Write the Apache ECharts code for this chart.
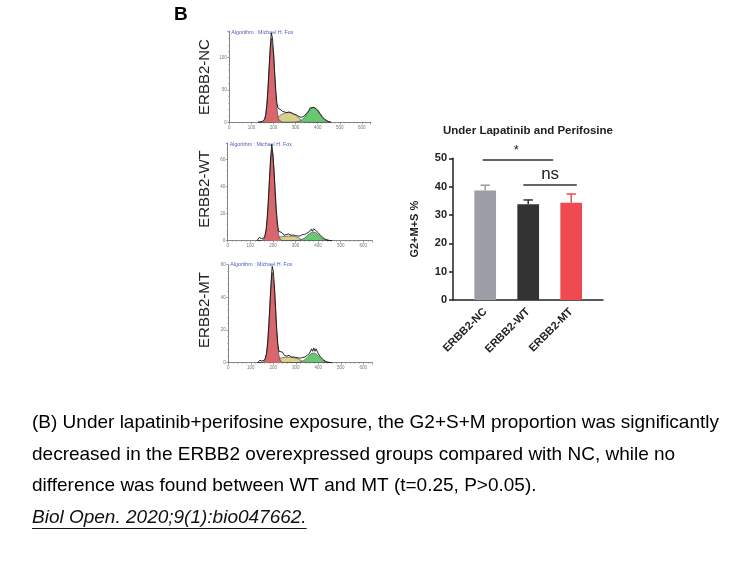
<!DOCTYPE html>
<html><head><meta charset="utf-8">
<script src="https://cdn.jsdelivr.net/npm/echarts@6/dist/echarts.min.js"></script>
<style>html,body{margin:0;padding:0;background:#fff}#c{width:756px;height:567px}</style>
</head><body><div id="c"></div>
<script>
// ---------------- DATA ----------------
const histChannels = [130,140,150,160,165,170,175,180,185,190,195,200,205,210,215,220,225,230,240,250,260,270,280,290,300,310,320,330,340,350,360,365,370,375,380,385,390,400,410,420,430,440,450,460];

const ncRed    = [0,0,0.4,4.5,12,27,51,82,112,130,128,107,75,45,23,10,3.6,1.1,0, 0,0,0,0,0,0,0,0,0,0,0,0, 0,0,0,0,0,0, 0,0,0,0,0,0,0];
const ncYellow = [0,0,0,0,0,0,0,0,0,0,0.5,2,3.5,5,6.5,8,9.5,10.5, 12.5,14,15,15,14.5,13,11,8,5,2,0.3,0,0, 0,0,0,0,0,0, 0,0,0,0,0,0,0];
const ncGreen  = [0,0,0,0,0,0,0,0,0,0,0,0,0,0,0,0,0,0, 0,0,0,0,0,0,0.3,0.8,2,4.1,7.7,12.4,17.5, 19.7,21.5,22.6,23,22.6,21.5, 17.5,12.4,7.7,4.1,2,0.8,0.3];
const ncTotal  = [0,0.5,1.5,5,12,27,52,84,114,138,131,110,80,52,31,22,24,20, 17,16,15,16,15,13,12,10,8,8,10,14,18, 22,24,23,26,23,24, 19,14,9,5,3,1,0];

const wtRed    = [0,0,0.1,1.1,3.1,7.7,16.3,29.5,45.5,59.7,66.8,63.7,51.7,35.8,21.1,10.6,4.5,1.7, 0.1,0,0,0,0,0,0,0,0,0,0,0,0, 0,0,0,0,0,0, 0,0,0,0,0,0,0];
const wtYellow = [0,0,0,0,0,0,0,0,0,0,0,0.3,0.8,1.3,1.8,2.2,2.5,2.7, 3,3.2,3.3,3.4,3.4,3.3,3,2.4,1.5,0.6,0.1,0,0, 0,0,0,0,0,0, 0,0,0,0,0,0,0];
const wtGreen  = [0,0,0,0,0,0,0,0,0,0,0,0,0,0,0,0,0,0, 0,0,0,0,0,0,0.05,0.16,0.44,1,2,3.4,4.9, 5.6,6.1,6.45,6.5,6.3,5.9, 4.6,3,1.6,0.75,0.3,0.1,0];
const wtTotal  = [0,2.5,1.5,2,4,8,17,30,46,61,71,64,52,37,23,13,7,6.5, 6,4,4.5,5,4,4.2,3.8,3.5,3.5,4.5,4.5,5.5,6.5, 7.5,8.5,7,8.8,7.5,7.5, 6,4,2.5,1.2,0.6,0.2,0];

const mtRed    = [0,0,0,0.7,2.1,5.4,11.9,22.2,35.3,47.9,55.3,54.4,45.6,32.6,19.9,10.3,4.5,1.7, 0.1,0,0,0,0,0,0,0,0,0,0,0,0, 0,0,0,0,0,0, 0,0,0,0,0,0,0];
const mtYellow = [0,0,0,0,0,0,0,0,0,0,0,0.2,0.6,1.1,1.6,2,2.4,2.7, 3.1,3.3,3.4,3.4,3.3,3.1,2.8,2.3,1.6,0.9,0.3,0,0, 0,0,0,0,0,0, 0,0,0,0,0,0,0];
const mtGreen  = [0,0,0,0,0,0,0,0,0,0,0,0,0,0,0,0,0,0, 0,0,0,0,0,0,0.05,0.15,0.4,0.9,1.8,3.1,4.5, 5.1,5.6,5.9,6,5.8,5.4, 4.2,2.8,1.5,0.7,0.25,0.08,0];
const mtTotal  = [0,1.5,1,1.5,3,6,12.5,23,36,49,59,56,47,34,21,11.5,7,6, 6.5,4.5,4,4.5,3.5,3.5,3.2,3,2.8,3.2,3.5,4.5,5.5, 6.5,8.5,7,9,7,8.5, 5.5,3.5,2,1,0.4,0.15,0];

const panelLabels = ['ERBB2-NC','ERBB2-WT','ERBB2-MT'];
const histXMax = 640, histXInterval = 100;
const histYMax = [141, 72, 60];
const histYInterval = [50, 20, 20];
const algorithmText = 'Algorithm : Michael H. Fox';

const barTitle = 'Under Lapatinib and Perifosine';
const barCategories = ['ERBB2-NC','ERBB2-WT','ERBB2-MT'];
const barMeans  = [38.6, 33.8, 34.3];
const barErrors = [1.9, 1.5, 3.1];
const barYMin = 0, barYMax = 50, barYInterval = 10;
const barYName = 'G2+M+S %';
// significance brackets, in category-index / value units
const sigFrom  = [-0.06, 0.886];
const sigTo    = [1.58, 2.13];
const sigLineY = [49.4, 40.6];
const sigTextX = [0.72, 1.51];
const sigTextY = [52.9, 44.4];
const sigLabels = ['*', 'ns'];

const panelLetter = 'B';
const captionLines = [
  '(B) Under lapatinib+perifosine exposure, the G2+S+M proportion was significantly',
  'decreased in the ERBB2 overexpressed groups compared with NC, while no',
  'difference was found between WT and MT (t=0.25, P>0.05).'
];
const citation = 'Biol Open. 2020;9(1):bio047662.';

// ---------------- STYLE / LAYOUT ----------------
const FONT = '"Liberation Sans", Arial, sans-serif';
const histPanels = [
  {red: ncRed, yellow: ncYellow, green: ncGreen, total: ncTotal},
  {red: wtRed, yellow: wtYellow, green: wtGreen, total: wtTotal},
  {red: mtRed, yellow: mtYellow, green: mtGreen, total: mtTotal}
];
const histGrids = [
  {left: 229.3, top: 31.2, width: 141.4, height: 91.1},
  {left: 227.7, top: 143.1, width: 144.6, height: 97.6},
  {left: 228.3, top: 264.7, width: 144.0, height: 98.0}
];
const labelCenters = [[205, 77], [205, 189], [205, 310]];
const algoY = [32.5, 145, 265];
const barColors = ['#9c9ea5', '#333333', '#ef4a50'];
const fillColors = {red: '#d8666c', yellow: '#d9cf8e', green: '#69c772'};

const grids = histGrids.map(g => Object.assign({containLabel: false}, g));
grids.push({left: 463.7, top: 158.3, width: 129, height: 141.7}); // bars
grids.push({left: 453, top: 158.3, width: 150, height: 141.7});   // bar axes

const xAxes = [], yAxes = [], series = [];
histGrids.forEach((g, i) => {
  xAxes.push({type: 'value', gridIndex: i, min: 0, max: histXMax, interval: histXInterval,
    axisLine: {onZero: false, lineStyle: {color: '#666', width: 0.8}},
    axisTick: {length: 2, lineStyle: {color: '#666', width: 0.6}},
    minorTick: {show: true, splitNumber: 5, length: 1.2, lineStyle: {color: '#888', width: 0.5}},
    axisLabel: {fontSize: 4.5, color: '#777', margin: 2.5, showMaxLabel: false, fontFamily: FONT},
    splitLine: {show: false}});
  yAxes.push({type: 'value', gridIndex: i, min: 0, max: histYMax[i], interval: histYInterval[i],
    axisLine: {show: true, onZero: false, lineStyle: {color: '#666', width: 0.8}},
    axisTick: {show: true, length: 2, lineStyle: {color: '#666', width: 0.6}},
    minorTick: {show: true, splitNumber: 5, length: 1.2, lineStyle: {color: '#888', width: 0.5}},
    axisLabel: {fontSize: 4.5, color: '#777', margin: 2.5, showMaxLabel: histYMax[i] % histYInterval[i] === 0, fontFamily: FONT},
    splitLine: {show: false}});
  const p = histPanels[i];
  const pairs = arr => histChannels.map((c, k) => [c, arr[k]]);
  [['yellow', 2], ['green', 3], ['red', 4]].forEach(([k, z]) => {
    series.push({type: 'line', xAxisIndex: i, yAxisIndex: i, data: pairs(p[k]), showSymbol: false, z: z,
      lineStyle: {color: '#3a3a3a', width: 0.6}, areaStyle: {color: fillColors[k], opacity: 1}, silent: true});
  });
  series.push({type: 'line', xAxisIndex: i, yAxisIndex: i, data: pairs(p.total), showSymbol: false, z: 6,
    lineStyle: {color: '#111', width: 0.9}, silent: true});
});

// bar grid (index 3)
xAxes.push({type: 'category', gridIndex: 3, data: barCategories,
  axisLine: {show: false, onZero: false}, axisTick: {show: false},
  axisLabel: {rotate: 45, fontSize: 11, fontWeight: 'bold', color: '#222', margin: 10, fontFamily: FONT, interval: 0}});
yAxes.push({type: 'value', gridIndex: 3, min: barYMin, max: barYMax, interval: barYInterval, show: false,
  axisLine: {show: false, onZero: false}});
// axes grid (index 4)
xAxes.push({type: 'value', gridIndex: 4, min: -0.75, max: 2.74,
  axisLine: {show: true, onZero: false, lineStyle: {color: '#222', width: 1.5}}, axisTick: {show: false},
  axisLabel: {show: false}, splitLine: {show: false}});
yAxes.push({type: 'value', gridIndex: 4, min: barYMin, max: barYMax, interval: barYInterval,
  axisLine: {show: true, onZero: false, lineStyle: {color: '#222', width: 1.5}},
  axisTick: {show: true, length: 4, lineStyle: {color: '#222', width: 1.5}},
  axisLabel: {fontSize: 11, fontWeight: 'bold', color: '#222', margin: 6, fontFamily: FONT},
  splitLine: {show: false},
  name: barYName, nameLocation: 'middle', nameRotate: 90, nameGap: 33,
  nameTextStyle: {fontSize: 11, fontWeight: 'bold', color: '#222', fontFamily: FONT}});

series.push({type: 'bar', xAxisIndex: 3, yAxisIndex: 3, barWidth: 21.7, z: 3,
  data: barMeans.map((v, i) => ({value: v, itemStyle: {color: barColors[i]}}))});
series.push({type: 'custom', xAxisIndex: 3, yAxisIndex: 3, z: 4,
  data: barMeans.map((v, i) => [i, v, barErrors[i]]),
  renderItem: (params, api) => {
    const i = api.value(0), v = api.value(1), e = api.value(2);
    const b = api.coord([i, v]), t = api.coord([i, v + e]);
    const hw = 4.7, col = barColors[params.dataIndex];
    return {type: 'group', children: [
      {type: 'line', shape: {x1: b[0], y1: b[1], x2: t[0], y2: t[1]}, style: {stroke: col, lineWidth: 1.5}},
      {type: 'line', shape: {x1: t[0] - hw, y1: t[1], x2: t[0] + hw, y2: t[1]}, style: {stroke: col, lineWidth: 1.5}}
    ]};
  }});
series.push({type: 'custom', xAxisIndex: 4, yAxisIndex: 4, z: 5, clip: false,
  data: sigLabels.map((l, k) => [sigFrom[k], sigTo[k], sigLineY[k], sigTextX[k], sigTextY[k]]),
  encode: {x: 0, y: 2},
  renderItem: (params, api) => {
    const a = api.coord([api.value(0), api.value(2)]);
    const b = api.coord([api.value(1), api.value(2)]);
    const t = api.coord([api.value(3), api.value(4)]);
    const lbl = sigLabels[params.dataIndex];
    return {type: 'group', children: [
      {type: 'line', shape: {x1: a[0], y1: a[1], x2: b[0], y2: b[1]}, style: {stroke: '#333', lineWidth: 1.5}},
      {type: 'text', x: t[0], y: t[1], style: {text: lbl, font: (lbl === '*' ? '13px ' : '17px ') + FONT,
        fill: '#222', align: 'center', verticalAlign: 'middle'}}
    ]};
  }});

// text graphics
const graphic = [];
graphic.push({type: 'text', x: 174, y: 15, style: {text: panelLetter, font: 'bold 19px ' + FONT, fill: '#000', verticalAlign: 'middle'}});
panelLabels.forEach((t, i) => {
  graphic.push({type: 'text', x: labelCenters[i][0], y: labelCenters[i][1], rotation: Math.PI / 2,
    style: {text: t, font: '15px ' + FONT, fill: '#222', align: 'center', verticalAlign: 'middle'}});
  graphic.push({type: 'text', x: histGrids[i].left + 2, y: algoY[i],
    style: {text: algorithmText, font: '5.3px ' + FONT, fill: '#4b5bbf', verticalAlign: 'middle'}});
});
graphic.push({type: 'text', x: 528, y: 131, style: {text: barTitle, font: 'bold 11.5px ' + FONT, fill: '#222', align: 'center', verticalAlign: 'middle'}});
const capY = [423, 455, 486];
captionLines.forEach((t, i) => {
  graphic.push({type: 'text', x: 32, y: capY[i], style: {text: t, font: '19px ' + FONT, fill: '#000', verticalAlign: 'middle'}});
});
const citeFont = 'italic 19px ' + FONT;
const ctx = document.createElement('canvas').getContext('2d');
ctx.font = citeFont;
const citeW = ctx.measureText(citation).width;
graphic.push({type: 'text', x: 32, y: 518, style: {text: citation, font: citeFont, fill: '#111', verticalAlign: 'middle'}});
graphic.push({type: 'line', shape: {x1: 32, y1: 528.5, x2: 32 + citeW, y2: 528.5}, style: {stroke: '#111', lineWidth: 1.2}});

const chart = echarts.init(document.getElementById('c'), null, {renderer: 'canvas'});
chart.setOption({
  backgroundColor: '#fff', animation: false,
  grid: grids, xAxis: xAxes, yAxis: yAxes, series: series, graphic: graphic
});
</script></body></html>
